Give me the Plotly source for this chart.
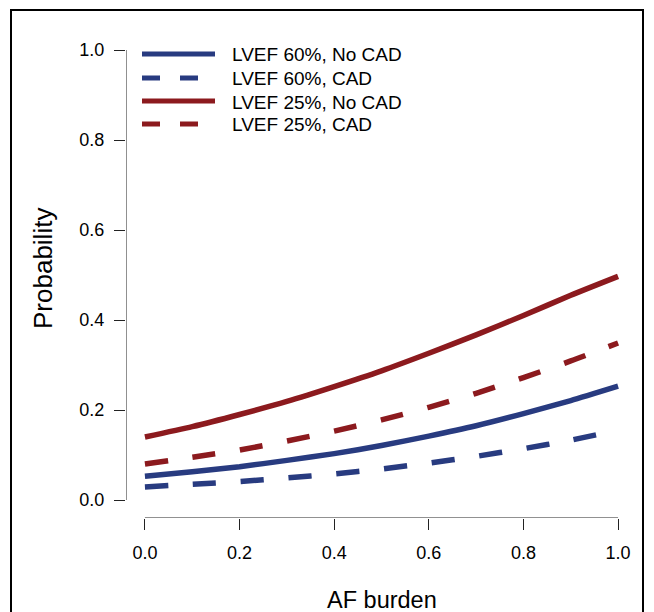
import plotly.graph_objects as go

# ---- data ----
af_burden = [0.0, 0.1, 0.2, 0.3, 0.4, 0.5, 0.6, 0.7, 0.8, 0.9, 1.0]
lvef60_no_cad = [0.053, 0.063, 0.074, 0.088, 0.103, 0.121, 0.142, 0.165, 0.192, 0.221, 0.253]
lvef60_cad = [0.029, 0.035, 0.041, 0.049, 0.058, 0.069, 0.082, 0.097, 0.114, 0.133, 0.155]
lvef25_no_cad = [0.140, 0.163, 0.190, 0.219, 0.252, 0.287, 0.326, 0.367, 0.410, 0.455, 0.497]
lvef25_cad = [0.080, 0.095, 0.111, 0.131, 0.153, 0.178, 0.206, 0.237, 0.272, 0.309, 0.349]

series_names = ["LVEF 60%, No CAD", "LVEF 60%, CAD", "LVEF 25%, No CAD", "LVEF 25%, CAD"]
series_values = [lvef60_no_cad, lvef60_cad, lvef25_no_cad, lvef25_cad]

x_ticks = [0.0, 0.2, 0.4, 0.6, 0.8, 1.0]
x_tick_labels = ["0.0", "0.2", "0.4", "0.6", "0.8", "1.0"]
y_ticks = [0.0, 0.2, 0.4, 0.6, 0.8, 1.0]
y_tick_labels = ["0.0", "0.2", "0.4", "0.6", "0.8", "1.0"]

# ---- styles ----
BLUE = "#283B80"
RED = "#8C1A1E"
colors = [BLUE, BLUE, RED, RED]
dashes = ["solid", "23px,25px", "solid", "23px,25px"]
legend_dashes = ["solid", "18px,20px", "solid", "18px,20px"]
FONT = "Liberation Sans, Arial, Helvetica, sans-serif"

W, H = 654, 612
L, R, T, B = 126, 17, 32, 94
pw, ph = W - L - R, H - T - B


def px_x(px):
    return (px - L) / pw


def px_y(py):
    return (H - B - py) / ph


fig = go.Figure()
for name, vals, c, d in zip(series_names, series_values, colors, dashes):
    fig.add_trace(go.Scatter(
        x=af_burden, y=vals, mode="lines", name=name,
        line=dict(color=c, width=5.5, dash=d, shape="spline", smoothing=0.6),
        showlegend=False, hoverinfo="skip"))

shapes = []
# detached axis lines (R style)
shapes.append(dict(type="line", xref="x", yref="y", x0=-0.04, x1=-0.04, y0=0, y1=1,
                   line=dict(color="#222222", width=1)))
shapes.append(dict(type="line", xref="x", yref="y", x0=0, x1=1, y0=-0.04, y1=-0.04,
                   line=dict(color="#222222", width=1)))
# outer frame
shapes.append(dict(type="rect", xref="paper", yref="paper",
                   x0=px_x(11), x1=px_x(643), y0=px_y(630), y1=px_y(10),
                   line=dict(color="black", width=2), fillcolor="rgba(0,0,0,0)"))

annotations = []
legend_rows = [54, 78, 101, 124]
for name, c, d, ry in zip(series_names, colors, legend_dashes, legend_rows):
    shapes.append(dict(type="line", xref="paper", yref="paper",
                       x0=px_x(142), x1=px_x(215), y0=px_y(ry), y1=px_y(ry),
                       line=dict(color=c, width=5, dash=d)))
    annotations.append(dict(text=name, xref="paper", yref="paper", x=px_x(230), y=px_y(ry + 1),
                            xanchor="left", yanchor="middle", showarrow=False,
                            font=dict(size=19, color="black", family=FONT)))

annotations.append(dict(text="AF burden", xref="paper", yref="paper", x=px_x(381.5), y=px_y(600),
                        xanchor="center", yanchor="middle", showarrow=False,
                        font=dict(size=23.5, color="black", family=FONT)))
annotations.append(dict(text="Probability", xref="paper", yref="paper", x=px_x(43), y=px_y(269),
                        xanchor="center", yanchor="middle", showarrow=False, textangle=-90,
                        font=dict(size=26, color="black", family=FONT)))

fig.update_layout(
    width=W, height=H,
    margin=dict(l=L, r=R, t=T, b=B),
    paper_bgcolor="white", plot_bgcolor="white",
    shapes=shapes, annotations=annotations,
    font=dict(family=FONT, color="black", size=18),
    xaxis=dict(range=[-0.04, 1.04], tickvals=x_ticks, ticktext=x_tick_labels,
               showgrid=False, zeroline=False, showline=False,
               ticks="outside", ticklen=11, tickcolor="#222222", tickwidth=1,
               ticklabelstandoff=7, tickfont=dict(size=18, color="black", family=FONT)),
    yaxis=dict(range=[-0.04, 1.04], tickvals=y_ticks, ticktext=y_tick_labels,
               showgrid=False, zeroline=False, showline=False,
               ticks="outside", ticklen=11, tickcolor="#222222", tickwidth=1,
               ticklabelstandoff=6, tickfont=dict(size=18, color="black", family=FONT)),
)

fig.write_html("out.html",
               config={"displayModeBar": False},
               post_script="document.body.style.margin='0';document.body.style.overflow='hidden';")
